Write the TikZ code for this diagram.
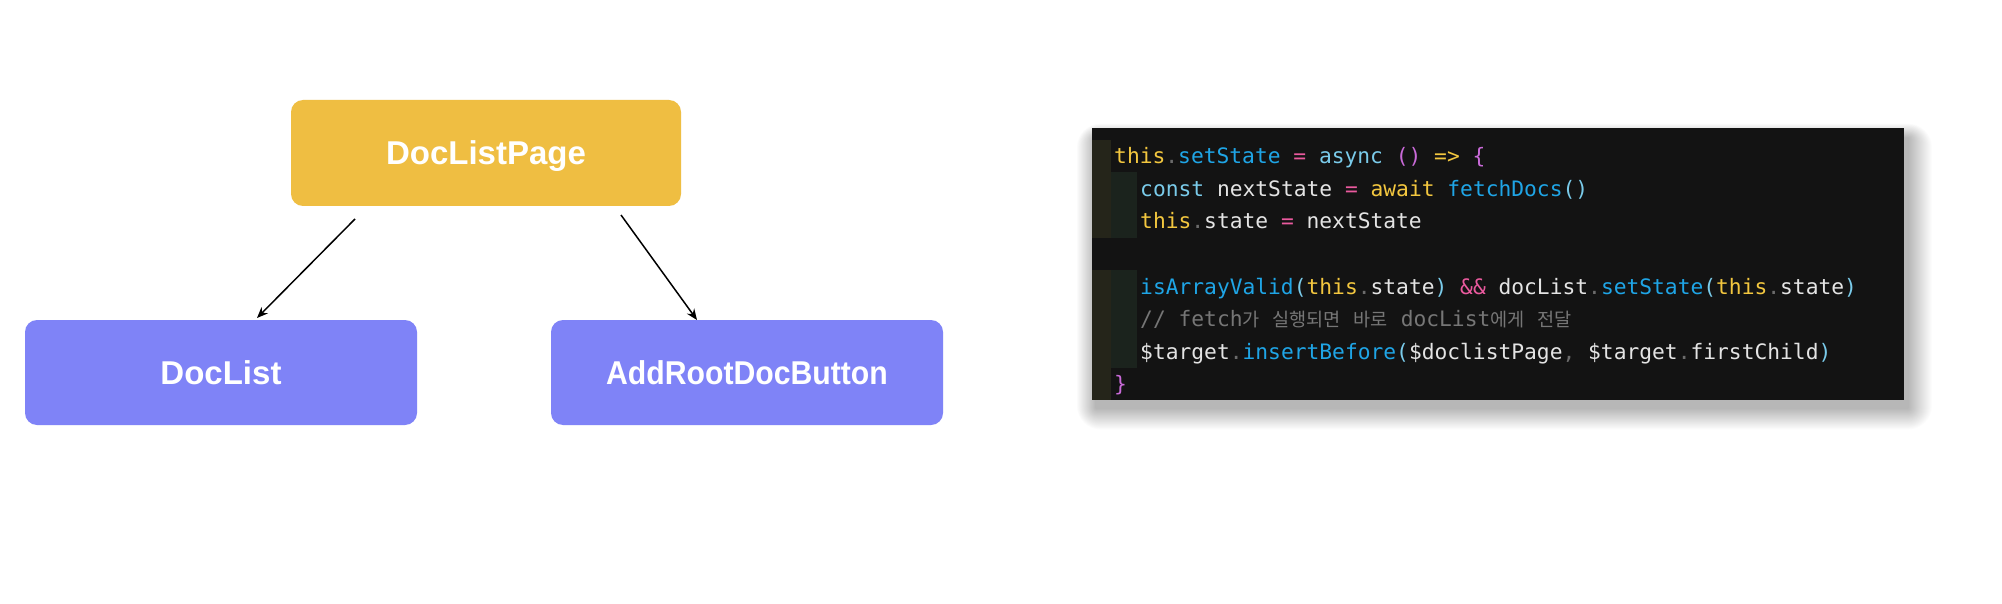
\documentclass[tikz,border=0pt]{standalone}
\usepackage{fontspec}
\setmainfont{Liberation Sans}
\newfontfamily\codefont{DejaVu Sans Mono}
\newfontfamily\cjk{Noto Sans CJK KR}
\usetikzlibrary{arrows.meta}
\definecolor{boxyellow}{HTML}{EFBE42}
\definecolor{boxpurple}{HTML}{7F83F7}
\definecolor{codebg}{HTML}{131313}
\definecolor{guideA}{HTML}{25251A}
\definecolor{guideB}{HTML}{1B231D}
\definecolor{cyel}{HTML}{F3C73F}
\definecolor{cdot}{HTML}{6B6B6B}
\definecolor{cfun}{HTML}{1FA5E6}
\definecolor{cop}{HTML}{EA5A9E}
\definecolor{ckey}{HTML}{7ACBEA}
\definecolor{cmag}{HTML}{C96AD8}
\definecolor{cwht}{HTML}{E4E4E4}
\definecolor{ccom}{HTML}{767676}
\newcommand{\cY}[1]{\textcolor{cyel}{#1}}
\newcommand{\cG}[1]{\textcolor{cdot}{#1}}
\newcommand{\cB}[1]{\textcolor{cfun}{#1}}
\newcommand{\cP}[1]{\textcolor{cop}{#1}}
\newcommand{\cK}[1]{\textcolor{ckey}{#1}}
\newcommand{\cM}[1]{\textcolor{cmag}{#1}}
\newcommand{\cW}[1]{\textcolor{cwht}{#1}}
\newcommand{\cC}[1]{\textcolor{ccom}{#1}}
\newcommand{\kr}[1]{{\cjk\fontsize{18.6}{22}\selectfont #1}}
\tikzset{
  compbox/.style={rounded corners=12pt, text=white, inner sep=0pt,
    font=\bfseries\fontsize{33}{40}\selectfont, minimum height=105pt,
    text height=24pt, text depth=0pt},
  topbox/.style={compbox, fill=boxyellow, minimum width=390pt, minimum height=106pt},
  childbox/.style={compbox, fill=boxpurple, minimum width=392pt},
  link/.style={line width=1.5pt, -{Stealth[length=11pt,width=9pt]}},
  codeline/.style={anchor=base west, inner sep=0pt,
    font=\codefont\fontsize{21.26}{26}\selectfont, text=cwht},
  shadowstep/.style={fill=black, opacity=0.011},
}
\begin{document}
\begin{tikzpicture}[x=1pt,y=-1pt]
\fill[white] (0,0) rectangle (2002,604);
\useasboundingbox (0,0) rectangle (2002,604);
% diagram
\node[topbox] (page) at (486,153) {DocListPage};
\node[childbox] (list) at (221,372.5) {DocList};
\node[childbox] (button) at (747,372.5) {\scalebox{0.915}[1]{AddRootDocButton}};
\coordinate (s1) at (355,219);
\coordinate (e1) at (257,318);
\coordinate (s2) at (621,215);
\coordinate (e2) at (697,320);
\draw[link] (s1) -- (e1);
\draw[link] (s2) -- (e2);
% code panel shadow
\foreach \i in {1,...,24}{
  \fill[shadowstep, rounded corners=\i pt] (1096-0.8*\i,138-0.6*\i) rectangle (1908+\i,408+0.9*\i);
}
\fill[codebg] (1092,128) rectangle (1904,400);
\fill[guideA] (1092,140) rectangle (1111,237.5);
\fill[guideA] (1092,270) rectangle (1111,400);
\fill[guideB] (1111,172.5) rectangle (1137,237.5);
\fill[guideB] (1111,270) rectangle (1137,367.5);
\node[codeline] (l1) at (1114,164) {\cY{this}\cG{.}\cB{setState} \cP{=} \cK{async} \cM{()} \cY{=>} \cM{\{}};
\node[codeline] (l2) at (1140,196.5) {\cK{const} \cW{nextState} \cP{=} \cY{await} \cB{fetchDocs}\cK{()}};
\node[codeline] (l3) at (1140,229) {\cY{this}\cG{.}\cW{state} \cP{=} \cW{nextState}};
\node[codeline] (l5) at (1140,294) {\cB{isArrayValid}\cK{(}\cY{this}\cG{.}\cW{state}\cK{)} \cP{\&\&} \cW{docList}\cG{.}\cB{setState}\cK{(}\cY{this}\cG{.}\cW{state}\cK{)}};
\node[codeline] (l6) at (1140,326.5) {\cC{// fetch\kr{가} \kr{실행되면} \kr{바로} docList\kr{에게} \kr{전달}}};
\node[codeline] (l7) at (1140,359) {\cW{\$target}\cG{.}\cB{insertBefore}\cK{(}\cW{\$doclistPage}\cG{,} \cW{\$target}\cG{.}\cW{firstChild}\cK{)}};
\node[codeline] (l8) at (1114,391.5) {\cM{\}}};
\end{tikzpicture}
\end{document}
